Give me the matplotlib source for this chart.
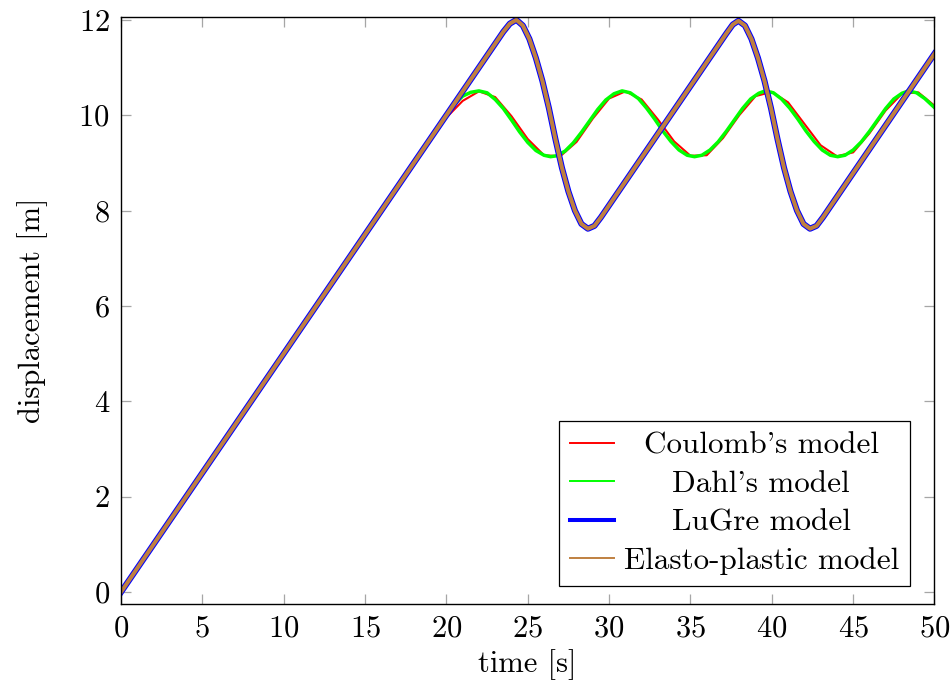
import matplotlib
matplotlib.use("Agg")
import matplotlib.pyplot as plt

plt.rcParams['font.family'] = 'cmr10'
plt.rcParams['axes.formatter.use_mathtext'] = True
plt.rcParams['font.size'] = 22

# Coulomb's model, coarse 1 s samples
coulomb_t = [0, 15, 20, 21, 22, 23, 24, 25, 26, 27, 28, 29, 30, 31, 32, 33, 34,
             35, 36, 37, 38, 39, 40, 41, 42, 43, 44, 45, 46, 47, 48, 49, 50]
coulomb_x = [0, 7.46, 9.95, 10.3, 10.5, 10.38, 9.98, 9.5, 9.16, 9.14, 9.44, 9.93,
             10.35, 10.5, 10.33, 9.91, 9.45, 9.15, 9.16, 9.52, 10.0, 10.4, 10.49,
             10.27, 9.82, 9.37, 9.14, 9.22, 9.62, 10.1, 10.45, 10.48, 10.2]

# Dahl's model
dahl_t = [0, 20, 20.5, 21, 21.5, 22, 22.5, 23, 23.5, 24, 24.5, 25, 25.5, 26, 26.4,
          26.8, 27.3, 27.8, 28.3, 28.8, 29.3, 29.8, 30.3, 30.8, 31.3, 31.8, 32.3,
          32.8, 33.3, 33.8, 34.3, 34.8, 35.25, 35.7, 36.2, 36.7, 37.2, 37.7, 38.2,
          38.7, 39.2, 39.6, 40.1, 40.6, 41.1, 41.6, 42.1, 42.6, 43.1, 43.6, 44.05,
          44.5, 45, 45.5, 46, 46.5, 47, 47.5, 48, 48.4, 48.9, 49.4, 50]
dahl_x = [0, 10.0, 10.23, 10.4, 10.48, 10.51, 10.47, 10.33, 10.14, 9.9, 9.65, 9.43,
          9.26, 9.16, 9.13, 9.15, 9.25, 9.42, 9.64, 9.88, 10.12, 10.32, 10.45, 10.51,
          10.47, 10.35, 10.15, 9.92, 9.67, 9.45, 9.27, 9.16, 9.13, 9.16, 9.27, 9.44,
          9.66, 9.9, 10.14, 10.34, 10.46, 10.51, 10.47, 10.34, 10.15, 9.92, 9.67,
          9.45, 9.27, 9.16, 9.13, 9.16, 9.27, 9.44, 9.66, 9.9, 10.14, 10.34, 10.46,
          10.51, 10.47, 10.35, 10.16]

# LuGre model (elasto-plastic gives the same trajectory)
lugre_t = [0, 23.5, 23.9, 24.3, 24.7, 25.1, 25.5, 25.9, 26.3, 26.7, 27.1, 27.5,
           27.9, 28.3, 28.7, 29.1, 29.5, 37.2, 37.6, 37.95, 38.35, 38.75, 39.15,
           39.55, 39.95, 40.35, 40.75, 41.15, 41.55, 41.95, 42.35, 42.75, 43.15, 50]
lugre_x = [0, 11.75, 11.92, 12.0, 11.88, 11.6, 11.2, 10.72, 10.15, 9.5, 8.9, 8.4,
           8.0, 7.72, 7.62, 7.68, 7.86, 11.71, 11.9, 11.98, 11.88, 11.6, 11.2,
           10.72, 10.15, 9.5, 8.9, 8.4, 8.0, 7.72, 7.62, 7.68, 7.86, 11.29]

elasto_t = lugre_t
elasto_x = lugre_x

# cmr10 draws the ASCII quote as a closing quote
labels = ["Coulomb's model", "Dahl's model", "LuGre model",
          "Elasto-plastic model"]

fig = plt.figure(figsize=(9.52, 6.87), dpi=100)
ax = fig.add_axes([0.1271, 0.1208, 0.8545, 0.8545])

l1, = ax.plot(coulomb_t, coulomb_x, color=(1, 0, 0), lw=1.5, label=labels[0])
l2, = ax.plot(dahl_t, dahl_x, color=(0, 1, 0), lw=2.5, label=labels[1])
l3, = ax.plot(lugre_t, lugre_x, color=(0, 0, 1), lw=4.4, label=labels[2])
l4, = ax.plot(elasto_t, elasto_x, color=(0.75, 0.5, 0.25), lw=2.9, label=labels[3])

ax.set_xlim(0, 50)
ax.set_ylim(-0.25, 12.06)
ax.set_xticks(range(0, 51, 5))
ax.set_yticks(range(0, 13, 2))
ax.tick_params(direction='in', length=7.5, width=0.9, color='0.65',
               top=True, right=True, pad=8)
for s in ax.spines.values():
    s.set_linewidth(1.0)
    s.set_color('black')

ax.set_xlabel("time [s]", labelpad=5)
ax.set_ylabel("displacement [m]", labelpad=22)

leg = ax.legend(loc='lower right', bbox_to_anchor=(0.97, 0.03), fancybox=False,
                framealpha=1, edgecolor='black', handlelength=1.42,
                handletextpad=0.3, labelspacing=0.34, borderpad=0.36,
                borderaxespad=0, fontsize=22.4)
leg.get_frame().set_linewidth(0.9)
for h, w in zip(leg.get_lines(), [1.4, 1.4, 2.9, 1.4]):
    h.set_linewidth(w)

# centre each label in the text column
fig.canvas.draw()
r = fig.canvas.get_renderer()
texts = leg.get_texts()
widths = [t.get_window_extent(r).width for t in texts]
wmax = max(widths)
for t, w in zip(texts, widths):
    t.set_position(((wmax - w) / 2, 0))

fig.savefig("out.png", dpi=100)
